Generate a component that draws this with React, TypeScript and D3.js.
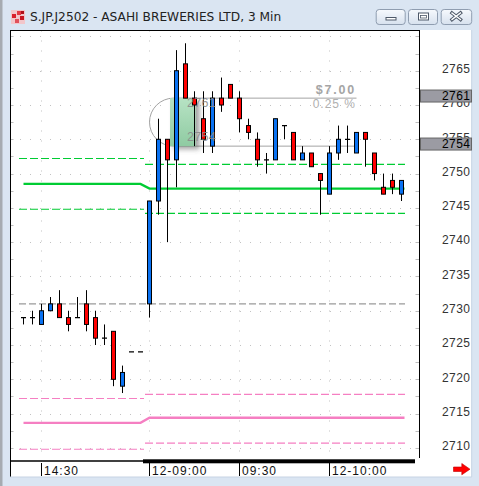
import React from 'react';
import * as d3 from 'd3';

// 3-minute bars, S.JP.J2502
const times = [
  '14:24', '14:27', '14:30', '14:33', '14:36', '14:39', '14:42', '14:45', '14:48', '14:51',
  '14:54', '14:57', '15:00', '15:03',
  '09:00', '09:03', '09:06', '09:09', '09:12', '09:15', '09:18', '09:21', '09:24', '09:27',
  '09:30', '09:33', '09:36', '09:39', '09:42', '09:45', '09:48', '09:51', '09:54', '09:57',
  '10:00', '10:03', '10:06', '10:09', '10:12', '10:15', '10:18', '10:21', '10:24',
];
const opens = [
  2729, 2729, 2728, 2730, 2731, 2729, 2729, 2731, 2729, 2726, 2727, 2719, 2724, 2724,
  2731, 2746, 2755, 2752, 2766, 2761, 2758, 2754, 2761, 2763, 2761, 2757, 2755, 2752,
  2752, 2757, 2756, 2752, 2753, 2750, 2747, 2753, 2755, 2753, 2756, 2753, 2748, 2749, 2747,
];
const highs = [
  2729, 2730, 2731, 2732, 2733, 2730, 2732, 2733, 2730, 2728, 2727, 2722, 2724, 2724,
  2746, 2758, 2755, 2768, 2769, 2762, 2762, 2762, 2764, 2763, 2762, 2758, 2756, 2753,
  2758, 2757, 2756, 2754, 2753, 2750, 2754, 2757, 2757, 2756, 2756, 2753, 2750, 2750, 2749,
];
const lows = [
  2728, 2728, 2728, 2730, 2729, 2727, 2729, 2727, 2725, 2725, 2719, 2718, 2724, 2724,
  2729, 2744, 2740, 2748, 2761, 2754, 2753, 2753, 2759, 2761, 2756, 2755, 2751, 2750,
  2752, 2755, 2752, 2752, 2751, 2744, 2747, 2752, 2753, 2753, 2751, 2749, 2747, 2747, 2746,
];
const closes = [
  2729, 2729, 2730, 2731, 2729, 2728, 2729, 2728, 2726, 2726, 2720, 2721, 2724, 2724,
  2746, 2755, 2752, 2765, 2761, 2760, 2755, 2761, 2760, 2761, 2758, 2756, 2752, 2752,
  2758, 2757, 2752, 2753, 2751, 2749, 2753, 2755, 2755, 2756, 2755, 2750, 2747, 2748, 2749,
];

// time axis
const tickIndex = [2, 14, 24, 34];
const tickLabels = ['14:30', '12-09:00', '09:30', '12-10:00'];

// price axis
const priceTicks = d3.range(2710, 2766, 5);
const gridLevels = d3.range(2710, 2771, 5);
const minorLevels = d3.range(2707.5, 2771, 2.5);

// daily indicator levels (previous session, current session)
const dayFirst = [0, 14];
const dayLast = [13, 42];
const greenUpper = [2752.2, 2751.35];
const greenMid = [2748.5, 2747.8];
const greenLower = [2744.8, 2744.2];
const pinkUpper = [2717.2, 2717.8];
const pinkMid = [2713.65, 2714.4];
const pinkLower = [2709.8, 2710.7];
const pivotLevel = 2731;

// measuring tool
const measureFrom = 14;
const measureTo = 37;
const measureHigh = 2761;
const measureLow = 2754;
const shadeFrom = 16;
const shadeTo = 19;

const W = 479;
const H = 486;
const plotL = 10;
const plotR = 419.5;
const plotT = 30.5;
const plotB = 458;

const BLUE = '#0a72f2';
const RED = '#ff0000';
const GREEN = '#00cc33';
const PINK = '#f57fc2';
const AXIS_FONT = '"Liberation Sans", Arial, sans-serif';

export default function App() {
  const n = times.length;
  const x = d3.scaleLinear().domain([0, n - 1]).range([23.5, 401.5]);
  const y = d3.scaleLinear().domain([2710, 2765]).range([447.9, 70.7]);
  const dayOf = (i: number) => (i >= dayFirst[1] ? 1 : 0);

  const midLine = (vals: number[]) => {
    const pts: [number, number][] = d3.range(n).map((i) => [x(i), y(vals[dayOf(i)])]);
    pts.push([x(n - 1) + 3, y(vals[1])]);
    return d3.line()(pts) || '';
  };

  const dayDashes = (vals: number[], color: string, key: string) =>
    vals.map((v, d) => (
      <line
        key={key + d}
        x1={x(dayFirst[d]) - 4.5}
        x2={x(dayLast[d]) + 3.5}
        y1={y(v)}
        y2={y(v)}
        stroke={color}
        strokeWidth={1.2}
        strokeDasharray="8,3"
      />
    ));

  const mTop = y(measureHigh);
  const mBot = y(measureLow);
  const r = (mBot - mTop) / 2;
  const mx0 = x(measureFrom);
  const mx1 = x(measureTo);
  const boxPath = `M${mx1},${mTop} L${mx0 + r},${mTop} A${r},${r} 0 0 0 ${mx0 + r},${mBot} L${mx1},${mBot}`;
  const diff = measureHigh - measureLow;
  const pct = (diff / measureLow) * 100;

  return (
    <svg width={W} height={H} style={{ position: 'absolute', left: 0, top: 0 }}>
      <defs>
        <linearGradient id="btn" x1="0" y1="0" x2="0" y2="1">
          <stop offset="0" stopColor="#f6f9fd" />
          <stop offset="1" stopColor="#d7e1ee" />
        </linearGradient>
        <linearGradient id="shade" x1="0" y1="0" x2="0" y2="1">
          <stop offset="0" stopColor="#b7e3c4" />
          <stop offset="1" stopColor="#8fcba2" />
        </linearGradient>
        <filter id="shadow" x="-30%" y="-30%" width="180%" height="160%">
          <feDropShadow dx="4" dy="3" stdDeviation="2.5" floodColor="#555" floodOpacity="0.55" />
        </filter>
        <clipPath id="plot">
          <rect x={plotL} y={plotT} width={plotR - plotL} height={plotB - plotT} />
        </clipPath>
      </defs>

      {/* window frame */}
      <rect x={0} y={0} width={W} height={H} fill="#dae5f2" />
      <rect x={0} y={0} width={2.5} height={H} fill="#a6abb1" />

      {/* title bar */}
      <g>
        <rect x={11} y={10} width={14} height={14} fill="#f2c6ca" />
        <rect x={12} y={14} width={4} height={4} fill="#d8202c" />
        <rect x={17} y={11} width={4} height={4} fill="#e23a44" />
        <rect x={20} y={16} width={4} height={4} fill="#c81824" />
        <rect x={15} y={19} width={4} height={4} fill="#e0505a" />
        <rect x={21} y={11} width={3} height={3} fill="#b0101c" />
        <text x={30} y={21} fontFamily='"DejaVu Sans", Tahoma, sans-serif' fontSize={12.2} fill="#222">
          S.JP.J2502 - ASAHI BREWERIES LTD, 3 Min
        </text>
        {[375.7, 408, 440.7].map((bx, i) => (
          <rect key={'b' + i} x={bx + 0.5} y={9.5} width={i === 2 ? 30.5 : 29} height={15} rx={3} fill="url(#btn)" stroke="#8f9db0" />
        ))}
        <rect x={386} y={17.5} width={10} height={2.5} fill="#fff" stroke="#4d5868" />
        <rect x={418.5} y={13} width={10} height={7} fill="#fff" stroke="#4d5868" />
        <rect x={420.5} y={15.5} width={6} height={2.5} fill="none" stroke="#4d5868" strokeWidth={0.8} />
        <g strokeLinecap="square">
          <path d="M452,13 L460.5,19.5 M460.5,13 L452,19.5" stroke="#4d5868" strokeWidth={3.4} />
          <path d="M452,13 L460.5,19.5 M460.5,13 L452,19.5" stroke="#fff" strokeWidth={1.4} />
        </g>
      </g>

      {/* chart pane */}
      <rect x={plotL} y={plotT - 0.5} width={461.7} height={447} fill="#fff" />
      <line x1={471.7} x2={471.7} y1={30} y2={477} stroke="#c6d3e3" />

      <g clipPath="url(#plot)">
        {/* dotted grid */}
        {gridLevels.map((v) => (
          <line key={'gh' + v} x1={plotL} x2={plotR} y1={Math.round(y(v)) + 0.5} y2={Math.round(y(v)) + 0.5} stroke="#c2c2c2" strokeDasharray="1,9" />
        ))}
        {tickIndex.map((i) => (
          <line key={'gv' + i} x1={x(i)} x2={x(i)} y1={plotT} y2={plotB} stroke="#c2c2c2" strokeDasharray="1,9" />
        ))}
        {minorLevels.map((v) => (
          <g key={'mt' + v}>
            <line x1={plotL} x2={plotL + 3.5} y1={Math.round(y(v)) + 0.5} y2={Math.round(y(v)) + 0.5} stroke="#bdbdbd" />
            <line x1={plotR - 4} x2={plotR} y1={Math.round(y(v)) + 0.5} y2={Math.round(y(v)) + 0.5} stroke="#bdbdbd" />
          </g>
        ))}

        {/* indicator levels */}
        <line x1={x(0) - 4.5} x2={x(n - 1) + 3.5} y1={y(pivotLevel)} y2={y(pivotLevel)} stroke="#9a9a9a" strokeWidth={1.2} strokeDasharray="7,3" />
        {dayDashes(greenUpper, GREEN, 'gu')}
        {dayDashes(greenLower, GREEN, 'gl')}
        {dayDashes(pinkUpper, PINK, 'pu')}
        {dayDashes(pinkLower, PINK, 'pl')}
        <path d={midLine(greenMid)} fill="none" stroke={GREEN} strokeWidth={2.4} />
        <path d={midLine(pinkMid)} fill="none" stroke={PINK} strokeWidth={2.4} />

        {/* measuring tool */}
        <path d={boxPath} fill="none" stroke="#a3a3a3" strokeWidth={1} />
        <rect
          x={x(shadeFrom) + 2.5}
          y={mTop}
          width={x(shadeTo) + 1 - (x(shadeFrom) + 2.5)}
          height={mBot - mTop}
          fill="url(#shade)"
          filter="url(#shadow)"
        />

        {/* candles */}
        {d3.range(n).map((i) => {
          const cx = x(i);
          const o = opens[i];
          const c = closes[i];
          const yo = y(o);
          const yc = y(c);
          return (
            <g key={'c' + i}>
              <line x1={cx} x2={cx} y1={y(highs[i])} y2={y(lows[i])} stroke="#000" />
              {o === c ? (
                <line x1={cx - 2.5} x2={cx + 2.5} y1={yo} y2={yo} stroke="#000" strokeWidth={1.2} />
              ) : (
                <rect
                  x={cx - 2}
                  y={Math.min(yo, yc)}
                  width={4}
                  height={Math.abs(yo - yc)}
                  fill={c > o ? BLUE : RED}
                  stroke="#000"
                  strokeWidth={1}
                />
              )}
            </g>
          );
        })}

        {/* measuring tool labels */}
        <text x={187} y={mTop + 9.2} fontFamily={AXIS_FONT} fontSize={12.5} fill="#8a8a8a" fillOpacity={0.9} letterSpacing={0.3}>
          {measureHigh}
        </text>
        <text x={187} y={mBot - 5.5} fontFamily={AXIS_FONT} fontSize={12.5} fill="#8a8a8a" fillOpacity={0.9} letterSpacing={0.3}>
          {measureLow}
        </text>
        <text x={356} y={mTop - 4.5} textAnchor="end" fontFamily={AXIS_FONT} fontSize={12.5} fontWeight="bold" fill="#a5a5a5" letterSpacing={1.8}>
          {'$' + diff.toFixed(2)}
        </text>
        <text x={356} y={mTop + 10} textAnchor="end" fontFamily={AXIS_FONT} fontSize={12} fill="#b0b0b0" letterSpacing={1}>
          {pct.toFixed(2) + ' %'}
        </text>
      </g>

      {/* pane borders */}
      <line x1={plotL + 0.5} x2={plotL + 0.5} y1={30} y2={477} stroke="#000" />
      <line x1={plotL} x2={plotR + 0.5} y1={plotT} y2={plotT} stroke="#000" />
      <line x1={plotR} x2={plotR} y1={30} y2={plotB} stroke="#000" />
      <line x1={plotL} x2={143} y1={461} y2={461} stroke="#000" strokeWidth={1.6} />
      <rect x={143} y={459.3} width={272} height={4} fill="#000" />

      {/* price axis */}
      {priceTicks.map((v) => (
        <text key={'pt' + v} x={442} y={y(v) + 2.3} fontFamily={AXIS_FONT} fontSize={12} fill="#333" letterSpacing={0.4}>
          {v}
        </text>
      ))}
      {[measureHigh, measureLow].map((v) => (
        <g key={'pb' + v}>
          <rect x={420.5} y={y(v) - 8.1} width={51} height={12} fill="#9b9ba3" stroke="#666" strokeWidth={1} />
          <text x={442} y={y(v) + 2.3} fontFamily={AXIS_FONT} fontSize={12} fill="#000" letterSpacing={0.4}>
            {v}
          </text>
        </g>
      ))}

      {/* time axis */}
      {tickIndex.map((i, k) => (
        <g key={'tt' + i}>
          <line x1={x(i)} x2={x(i)} y1={463} y2={476} stroke="#000" />
          <text x={x(i) + 2.5} y={474.5} fontFamily={AXIS_FONT} fontSize={12} fill="#111" letterSpacing={1}>
            {tickLabels[k]}
          </text>
        </g>
      ))}
      <line x1={plotL} x2={471.7} y1={477} y2={477} stroke="#c6d3e3" />

      {/* scroll-to-end arrow */}
      <path d="M453.5,467 L461.8,467 L461.8,463.5 L470,469.2 L461.8,474.8 L461.8,471.5 L453.5,471.5 Z" fill="#ff0000" stroke="#c00000" strokeWidth={0.6} />
    </svg>
  );
}
